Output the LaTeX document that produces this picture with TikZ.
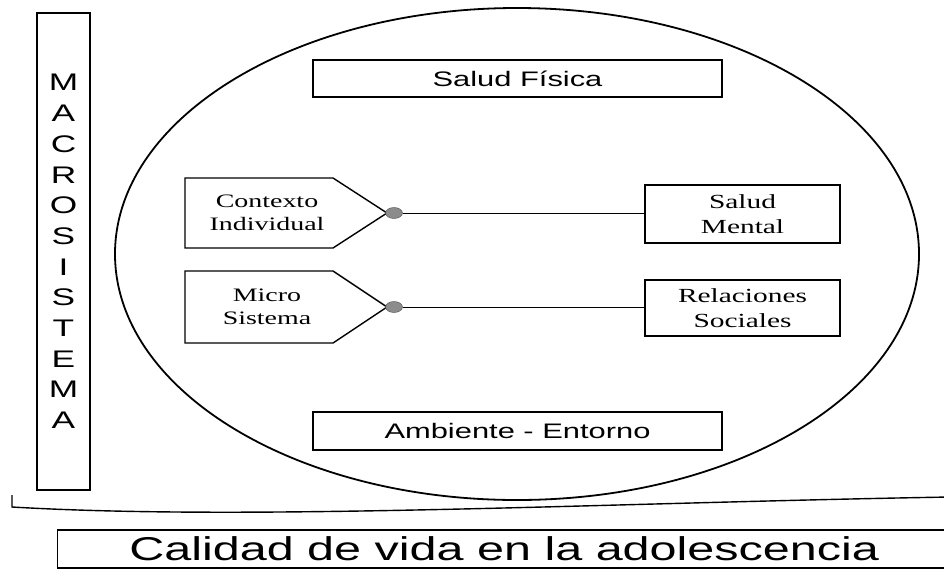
\documentclass[tikz,border=0pt]{standalone}
\usepackage{fontspec}
\newfontfamily\arialx[FakeStretch=1.47]{Liberation Sans}
\newfontfamily\timesx[FakeStretch=1.47]{Liberation Serif}
\usetikzlibrary{shapes.geometric}

\begin{document}
\begin{tikzpicture}[x=1pt, y=-1pt,
  box/.style={draw, line width=1.4pt, inner sep=0pt},
  sanslab/.style={font=\arialx\fontsize{21}{25}\selectfont},
  seriflab/.style={font=\timesx\fontsize{19}{23}\selectfont, align=center},
  knot/.style={ellipse, draw=black!70, fill=black!45, minimum width=17pt, minimum height=11pt, inner sep=0pt},
  link/.style={line width=0.7pt}]
\useasboundingbox (0,0) rectangle (944,571);
\clip (0,0) rectangle (944,571);
% The macrosystem column
\node[box, minimum width=53pt, minimum height=477pt, align=center, font=\arialx\fontsize{24}{30.7}\selectfont] (macro) at (63.5,251.5) {M\\A\\C\\R\\O\\S\\I\\S\\T\\E\\M\\A};
\draw[line width=1.4pt] (12,495) -- (12,507) .. controls (250,521) and (600,503) .. (950,497);
% The ellipse
\draw[line width=1.8pt] (517,254) ellipse [x radius=402, y radius=246];
% Top and bottom boxes
\node[box, sanslab, minimum width=409pt, minimum height=37pt] (fisica) at (517.5,78.5) {Salud Física};
\node[box, sanslab, minimum width=409pt, minimum height=38pt] (ambiente) at (517.5,431) {Ambiente - Entorno};
% The two pentagons
\node[seriflab] (contexto) at (267,213) {Contexto\\Individual};
\draw[line width=1.4pt] (contexto.center) ++(-82,-35) -- ++(148,0) -- ++(54,35) -- ++(-54,35) -- ++(-148,0) -- cycle;
\node[seriflab] (micro) at (267,307) {Micro\\Sistema};
\draw[line width=1.4pt] (micro.center) ++(-82,-36) -- ++(148,0) -- ++(54,36) -- ++(-54,36) -- ++(-148,0) -- cycle;
\node[knot] (cdot) at (394,213) {};
\node[knot] (mdot) at (394,307) {};
% The right boxes
\node[box, seriflab, font=\timesx\fontsize{20}{25}\selectfont, minimum width=195pt, minimum height=58pt] (mental) at (742.5,214) {Salud\\Mental};
\node[box, seriflab, font=\timesx\fontsize{20}{25}\selectfont, minimum width=195pt, minimum height=56pt] (social) at (742.5,308) {Relaciones\\Sociales};
\draw[link] (cdot.east) -- (cdot.east -| mental.west);
\draw[link] (mdot.east) -- (mdot.east -| social.west);
% The title
\node[box, font=\arialx\fontsize{33}{38}\selectfont, minimum width=893pt, minimum height=38pt, anchor=west] (calidad) at (57,549) {Calidad de vida en la adolescencia};
\end{tikzpicture}
\end{document}
